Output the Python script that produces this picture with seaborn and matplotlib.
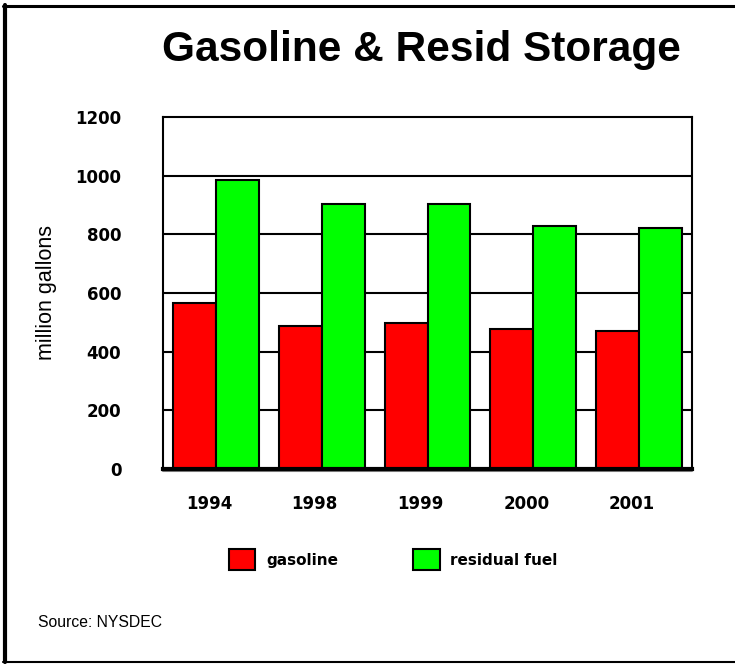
import pandas as pd
import matplotlib.pyplot as plt
import matplotlib.transforms as mtransforms
import seaborn as sns
from matplotlib.patches import Rectangle
from matplotlib.lines import Line2D

years = ["1994", "1998", "1999", "2000", "2001"]
gasoline = [566, 486, 499, 478, 471]
residual_fuel = [985, 903, 903, 827, 821]
series_names = ["gasoline", "residual fuel"]
series_colors = ["#ff0000", "#00ff00"]
y_ticks = [0, 200, 400, 600, 800, 1000, 1200]

sns.set_theme(style="white")
plt.rcParams["font.family"] = ["Liberation Sans", "DejaVu Sans"]
for k in ["text.color", "axes.labelcolor", "xtick.color", "ytick.color"]:
    plt.rcParams[k] = "black"

df = pd.DataFrame({
    "year": years * 2,
    "value": gasoline + residual_fuel,
    "fuel": [series_names[0]] * len(years) + [series_names[1]] * len(years),
})

fig = plt.figure(figsize=(7.35, 6.64), dpi=100)
ax = fig.add_axes([0.2218, 0.2937, 0.7197, 0.5301])

sns.barplot(data=df, x="year", y="value", hue="fuel", palette=series_colors,
            saturation=1, width=0.81, edgecolor="black", linewidth=1.5,
            ax=ax, zorder=3, legend=False)

tick_font = {"family": "DejaVu Sans", "weight": "bold", "size": 12}
ax.set_ylim(0, 1200)
ax.set_yticks(y_ticks)
ax.set_yticklabels([str(t) for t in y_ticks], fontdict=tick_font)
ax.set_xticks(range(len(years)))
ax.set_xticklabels(years, fontdict=tick_font)
ax.tick_params(axis="x", length=0, pad=19)
ax.tick_params(axis="y", length=0, pad=30)
ax.set_xlim(-0.5, len(years) - 0.5)
ax.set_xlabel("")
ax.set_ylabel("million gallons", fontsize=15.5, labelpad=13)

# year labels sit a little left of the bar pairs in the original
shift = mtransforms.ScaledTranslation(-7 / 100, 0, fig.dpi_scale_trans)
for lab in ax.get_xticklabels():
    lab.set_transform(lab.get_transform() + shift)

for t in y_ticks[1:-1]:
    ax.axhline(t, color="black", linewidth=1.5, zorder=1)
for s in ax.spines.values():
    s.set_color("black")
    s.set_linewidth(1.5)
ax.spines["bottom"].set_linewidth(3)
ax.spines["bottom"].set_zorder(4)
# grey shadow under the zero line
ax.add_line(Line2D([0, 1], [-0.006, -0.006], transform=ax.transAxes,
                   color="#808080", linewidth=1.5, clip_on=False))

fig.text(0.574, 0.908, "Gasoline & Resid Storage", ha="center", va="baseline",
         fontsize=30.5, fontweight="bold")

handles = [Rectangle((0, 0), 1, 1, facecolor=c, edgecolor="black", linewidth=1.5)
           for c in series_colors]
fig.legend(handles, series_names, loc="center", bbox_to_anchor=(0.535, 0.157),
           ncol=2, frameon=False, handlelength=1.75, handleheight=1.75,
           handletextpad=0.7, columnspacing=4.9,
           prop={"family": "DejaVu Sans", "weight": "bold", "size": 11})

fig.text(0.052, 0.063, "Source: NYSDEC", fontsize=11.3, va="center")

# page frame: left, top and bottom edges only
fig.add_artist(Line2D([5 / 735, 5 / 735], [1 - 5 / 664, 1 - 662 / 664],
                      transform=fig.transFigure, color="black", linewidth=3))
fig.add_artist(Line2D([3 / 735, 1], [1 - 5.5 / 664, 1 - 5.5 / 664],
                      transform=fig.transFigure, color="black", linewidth=2.2))
fig.add_artist(Line2D([3 / 735, 1], [1 - 662 / 664, 1 - 662 / 664],
                      transform=fig.transFigure, color="black", linewidth=1.5))

fig.savefig("out.png", dpi=100)
